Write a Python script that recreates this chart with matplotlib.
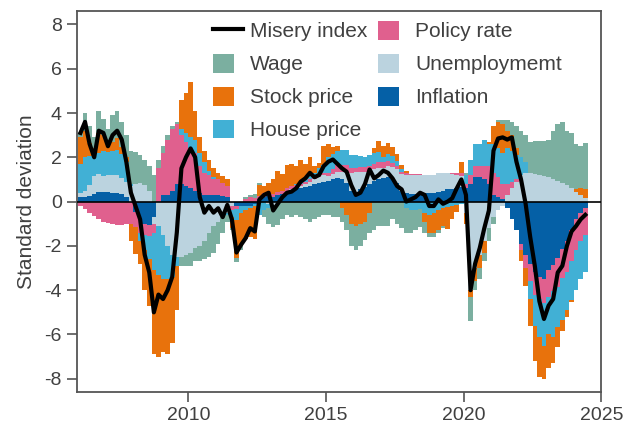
import numpy as np
import matplotlib
matplotlib.use("Agg")
import matplotlib.pyplot as plt
from matplotlib.patches import Patch
from matplotlib.lines import Line2D
from matplotlib.legend_handler import HandlerLine2D

plt.rcParams['font.family'] = ['Liberation Sans', 'DejaVu Sans']
plt.rcParams['axes.unicode_minus'] = False

# Two-month periods starting Jan 2006 (six per year), up to mid-2024
start_year = 2006
per_year = 6

inflation = [
    0.2, 0.2, 0.25, 0.35, 0.45, 0.45,
    0.45, 0.4, 0.4, 0.35, 0.2, 0.0,
    -0.45, -0.8, -1.0, -1.05, -0.7, 0.0,
    0.3, 0.3, 0.5, 0.8, 0.8, 0.7,
    0.6, 0.5, 0.4, 0.3, 0.3, 0.3,
    0.3, 0.25, 0.2, 0.0, -0.2, -0.2,
    -0.2, -0.2, -0.1, 0.1, 0.2, 0.25,
    0.2, 0.3, 0.35, 0.45, 0.5, 0.55,
    0.6, 0.65, 0.7, 0.8, 0.85, 0.9,
    0.95, 1.0, 1.05, 1.0, 0.85, 0.5,
    0.4, 0.55, 0.65, 0.8, 0.95, 1.0,
    1.05, 1.1, 1.0, 0.85, 0.5, 0.4,
    0.35, 0.35, 0.35, 0.4, 0.4, 0.4,
    0.45, 0.5, 0.55, 0.55, 0.6, 0.65,
    0.6, 0.8, 1.1, 1.1, 1.0, 0.8,
    0.3, 0.2, 0.1, -0.3, -0.8, -1.3,
    -1.9, -2.4, -2.8, -3.2, -3.4, -3.5,
    -3.1, -2.85, -2.55, -2.15, -1.8, -1.3,
    -0.8, -0.5, -0.3,
]

unemployment = [
    0.2, 0.3, 0.5, 0.8, 0.8, 0.7,
    0.75, 0.8, 0.8, 0.7, 0.7, 0.7,
    0.8, 0.85, 0.75, 0.5, -0.3, -1.1,
    -1.5, -2.0, -2.4, -2.5, -2.5, -2.4,
    -2.3, -2.1, -2.0, -1.8, -1.4, -1.1,
    -0.9, -0.7, -0.5, -0.2, 0.0, 0.0,
    0.0, 0.0, 0.0, 0.0, 0.0, -0.1,
    -0.15, -0.1, 0.0, 0.0, 0.05, 0.1,
    0.1, 0.15, 0.2, 0.2, 0.25, 0.3,
    0.2, 0.25, 0.3, 0.35, 0.5, 0.8,
    0.95, 0.8, 0.7, 0.6, 0.5, 0.5,
    0.45, 0.5, 0.55, 0.6, 0.75, 0.8,
    0.85, 0.85, 0.85, 0.8, 0.8, 0.8,
    0.85, 0.8, 0.75, 0.7, 0.6, 0.5,
    -0.5, -4.0, -3.0, -2.4, -1.8, -1.2,
    -0.7, -0.4, -0.2, 0.3, 0.6, 0.9,
    1.2, 1.3, 1.3, 1.25, 1.2, 1.15,
    1.1, 1.0, 0.95, 0.85, 0.75, 0.6,
    0.45, 0.3, 0.15,
]

policy_rate = [
    -0.2, -0.35, -0.5, -0.65, -0.8, -0.9,
    -0.95, -1.0, -1.05, -1.05, -1.0, -1.0,
    -0.7, -0.6, -0.5, -0.5, -0.4, 1.5,
    1.9, 2.5, 2.8, 2.7, 2.2, 2.0,
    1.8, 1.7, 1.2, 1.0, 0.9, 0.7,
    0.7, 0.6, 0.5, -0.2, -0.15, 0.0,
    0.1, 0.2, 0.15, 0.15, 0.2, 0.2,
    0.15, 0.15, 0.15, 0.15, 0.15, 0.1,
    0.1, 0.1, 0.1, 0.1, 0.1, 0.1,
    0.15, 0.2, 0.3, 0.3, 0.3, 0.2,
    0.15, 0.2, 0.2, 0.2, 0.25, 0.3,
    0.3, 0.25, 0.2, 0.15, 0.1, 0.1,
    0.05, 0.05, 0.05, 0.0, 0.0, 0.0,
    0.0, 0.0, 0.0, 0.05, 0.1, 0.15,
    0.2, 0.4, 0.5, 0.5, 0.6, 0.8,
    1.0, 0.9, 0.7, 0.5, 0.3, 0.1,
    -0.3, -0.6, -0.8, -1.0, -1.0, -1.1,
    -1.2, -1.2, -1.3, -1.3, -1.4, -1.4,
    -1.4, -1.3, -1.2,
]

house_price = [
    1.3, 1.5, 1.3, 0.95, 0.95, 1.15,
    1.05, 1.1, 1.15, 1.1, 0.9, 0.1,
    0.0, -0.4, -0.7, -1.05, -1.7, -2.2,
    -2.0, -1.5, -1.0, -0.4, 0.3, 0.4,
    0.5, 0.6, 0.6, 0.5, 0.2, 0.1,
    0.0, 0.0, -0.1, -0.3, -0.5, -0.3,
    -0.2, -0.1, -0.1, -0.6, -0.4, -0.2,
    -0.1, -0.05, 0.0, 0.0, 0.0, 0.05,
    0.1, 0.1, 0.15, 0.2, 0.3, 0.35,
    0.7, 0.7, 0.65, 0.7, 0.7, 0.6,
    0.6, 0.5, 0.45, 0.5, 0.5, 0.45,
    0.2, 0.3, 0.3, 0.25, 0.1, -0.3,
    -0.4, -0.4, -0.35, -0.5, -0.6, -0.5,
    -0.4, -0.3, -0.25, -0.2, -0.15, -0.1,
    0.4, 0.7, 1.0, 1.0, 1.2, 1.0,
    1.3, 1.3, 1.4, 1.6, 1.4, 1.1,
    0.8, 0.5, -0.8, -1.4, -1.7, -1.9,
    -1.7, -2.05, -1.8, -1.9, -1.7, -1.75,
    -1.8, -1.7, -1.7,
]

stock_price = [
    1.2, 1.2, 0.6, 0.3, 0.9, 0.7,
    0.3, 0.4, 0.5, 0.3, 0.2, -0.8,
    -1.2, -1.0, -1.8, -2.1, -3.8, -3.7,
    -3.3, -3.4, -3.0, -2.0, 1.3, 1.8,
    2.5, 1.3, 0.7, 0.5, 0.5, 0.4,
    0.3, 0.3, 0.3, -0.5, -1.7, -1.5,
    -1.3, -1.3, -1.5, 0.5, 0.3, 0.4,
    0.65, 0.95, 0.75, 1.05, 1.0, 0.8,
    1.0, 0.7, 0.85, 0.3, 0.25, 0.85,
    0.6, 0.3, 0.2, -0.3, -0.6, -1.0,
    -1.1, -1.0, -0.9, -0.5, 0.2, 0.5,
    0.5, 0.5, 0.4, 0.3, 0.2, 0.1,
    0.0, 0.0, 0.0, -0.4, -0.8, -0.9,
    -0.9, -0.8, -1.0, -0.6, -0.3, 0.5,
    -0.5, -0.3, -0.6, -0.6, -0.5, 0.1,
    0.8, 1.2, 1.3, 0.8, 0.7, 0.3,
    -0.5, -0.8, -1.2, -1.6, -1.8, -1.5,
    -1.5, -1.2, -0.9, -0.5, -0.3, -0.1,
    0.1, 0.3, 0.4,
]

wage = [
    0.25, 0.8, 0.75, 0.5, 1.0, 0.75,
    0.75, 1.2, 1.25, 1.15, 1.0, 1.5,
    1.45, 1.25, 1.15, 1.1, 1.2, 0.4,
    0.3, 0.2, 0.1, 0.1, -0.4, -0.5,
    -0.6, -0.6, -0.7, -0.8, -1.1, -1.2,
    -1.0, -0.7, -0.3, -0.1, -0.2, -0.2,
    0.1, 0.1, 0.2, 0.1, -0.3, -0.7,
    -0.9, -0.9, -0.8, -0.6, -0.7, -0.6,
    -0.7, -0.8, -0.9, -0.8, -0.7, -0.6,
    -0.6, -0.7, -0.7, -0.6, -0.7, -1.0,
    -1.1, -1.0, -0.85, -0.9, -1.3, -1.1,
    -1.1, -1.1, -0.8, -1.0, -1.2, -1.1,
    -1.0, -0.9, -0.8, -0.5, -0.2, -0.2,
    -0.1, -0.1, 0.0, 0.0, 0.0, 0.0,
    0.1, -1.1, -0.4, -0.5, -0.4, -0.6,
    -0.3, 0.1, 0.2, 0.5, 0.6, 1.0,
    1.2, 1.2, 1.4, 1.5, 1.55, 1.6,
    1.7, 2.2, 2.55, 2.75, 2.45, 2.5,
    2.05, 1.9, 2.1,
]

misery_index = [
    3.1, 3.6, 2.6, 2.0, 3.2, 3.1,
    2.5, 3.0, 3.2, 2.8, 1.8, 0.4,
    -0.2, -0.8, -2.4, -3.2, -5.0, -4.2,
    -4.4, -4.0, -3.4, -1.4, 1.5, 2.0,
    2.4, 2.0, 0.2, -0.5, -0.2, -0.5,
    -0.3, -0.7, -0.15, -0.8, -2.3, -1.95,
    -1.65, -1.2, -1.35, 0.1, 0.3, 0.4,
    -0.4, -0.1, 0.2, 0.4, 0.45, 0.6,
    0.9, 1.05, 1.3, 1.1, 1.2, 1.6,
    1.8, 1.9, 1.7, 1.5, 1.35, 0.75,
    0.3, 0.4, 0.8, 1.45, 1.05, 1.2,
    1.4, 1.3, 1.05, 0.7, 0.55, 0.0,
    0.1, 0.2, 0.4, 0.3, -0.2, -0.2,
    0.1, -0.1, 0.0, 0.15, 0.6, 1.0,
    0.3, -4.0, -2.8, -2.1, -1.2, -0.4,
    2.3, 2.85, 2.9, 2.8, 2.9, 1.8,
    1.0, -0.1, -1.6, -2.9, -4.5, -5.3,
    -4.7, -4.4, -3.2, -2.9, -2.0, -1.35,
    -1.1, -0.8, -0.6,
]

# stacking order, from the zero line outwards
components = [
    ("Inflation", inflation, "#0560a6"),
    ("Unemploymemt", unemployment, "#bbd3df"),
    ("Policy rate", policy_rate, "#e0608e"),
    ("House price", house_price, "#41b0d5"),
    ("Stock price", stock_price, "#e8720c"),
    ("Wage", wage, "#7bafa0"),
]


class LongLineHandler(HandlerLine2D):
    # legend line a bit longer than the colour squares
    def create_artists(self, legend, orig_handle, xdescent, ydescent,
                       width, height, fontsize, trans):
        return super().create_artists(legend, orig_handle, xdescent, ydescent,
                                      width * 1.45, height, fontsize, trans)


n = len(misery_index)
edges = start_year + np.arange(n + 1) / per_year
centers = start_year + (np.arange(n) + 0.5) / per_year

fig = plt.figure(figsize=(6.34, 4.28), dpi=100)
ax = fig.add_axes([0.1215, 0.084, 0.827, 0.89])

pos_base = np.zeros(n)
neg_base = np.zeros(n)
for name, vals, col in components:
    v = np.array(vals)
    p = np.clip(v, 0, None)
    q = np.clip(v, None, 0)
    ax.stairs(pos_base + p, edges, baseline=pos_base.copy(), fill=True, color=col, linewidth=0, zorder=2)
    ax.stairs(neg_base + q, edges, baseline=neg_base.copy(), fill=True, color=col, linewidth=0, zorder=2)
    pos_base += p
    neg_base += q

ax.axhline(0, color="black", lw=1.2, zorder=3)
misery_line, = ax.plot(centers, misery_index, color="black", lw=3, zorder=4)

ax.set_xlim(2005.96, 2025)
ax.set_ylim(-8.6, 8.6)
ax.set_xticks([2010, 2015, 2020, 2025])
ax.set_yticks(range(-8, 9, 2))
ax.set_ylabel("Standard deviation", fontsize=15, color="#404040", labelpad=6)

for s in ax.spines.values():
    s.set_color("#555555")
    s.set_linewidth(1.3)
ax.tick_params(direction="out", length=7, width=1.2, color="#555555",
               labelcolor="#404040", labelsize=14, pad=4)

handles = [Line2D([], [], color="black", lw=3)]
labels = ["Misery index"]
for name, vals, col in reversed(components):
    handles.append(Patch(facecolor=col, edgecolor="none"))
    labels.append(name)

leg = ax.legend(handles, labels, ncol=2, loc="upper left",
                bbox_to_anchor=(0.3355, 0.951), bbox_transform=fig.transFigure,
                frameon=False, fontsize=15, handlelength=1.0, handleheight=1.0,
                handletextpad=0.8, columnspacing=0.5, labelspacing=0.6,
                borderpad=0, borderaxespad=0,
                handler_map={handles[0]: LongLineHandler()})
for t in leg.get_texts():
    t.set_color("#404040")

fig.savefig("out.png", dpi=100)
